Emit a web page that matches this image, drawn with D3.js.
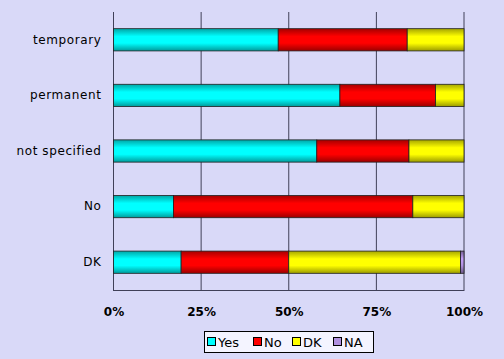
<!DOCTYPE html>
<html><head><meta charset="utf-8">
<script src="https://cdn.jsdelivr.net/npm/d3@7"></script>
<style>body{margin:0;background:#d9d9f8;}svg{display:block;}</style>
</head><body>
<script>
const categories = ["temporary","permanent","not specified","No","DK"];
const seriesNames = ["Yes","No","DK","NA"];
const yesValues = [47.0, 64.6, 58.0, 17.1, 19.3];
const noValues  = [36.8, 27.3, 26.3, 68.3, 30.7];
const dkValues  = [16.2, 8.1, 15.7, 14.6, 49.0];
const naValues  = [0, 0, 0, 0, 1.0];
const tickValues = [0, 25, 50, 75, 100];
const tickLabels = ["0%","25%","50%","75%","100%"];
const colors = ["#00ffff","#ff0000","#ffff00","#b090e0"];

const W = 504, H = 359;
const svg = d3.select("body").append("svg").attr("width", W).attr("height", H);
svg.append("rect").attr("width", W).attr("height", H).attr("fill", "#d9d9f8");

const defs = svg.append("defs");
colors.forEach((c, i) => {
  const g = defs.append("linearGradient").attr("id", "g" + i).attr("x1", 0).attr("y1", 0).attr("x2", 0).attr("y2", 1);
  const base = d3.color(c);
  g.append("stop").attr("offset", "0%").attr("stop-color", base.darker(1.2));
  g.append("stop").attr("offset", "35%").attr("stop-color", base.brighter(0.3));
  g.append("stop").attr("offset", "65%").attr("stop-color", base);
  g.append("stop").attr("offset", "100%").attr("stop-color", base.darker(1.4));
});

const x = d3.scaleLinear().domain([0, 100]).range([113.5, 464]);
const y = d3.scaleBand().domain(categories).range([12, 290]).paddingInner(0.6).paddingOuter(0.3);

// gridlines
svg.append("g").selectAll("line").data(tickValues).join("line")
  .attr("x1", d => x(d)).attr("x2", d => x(d)).attr("y1", 12).attr("y2", 291)
  .attr("stroke", "#404058").attr("stroke-width", 1);
// bottom axis line
svg.append("line").attr("x1", x(0)).attr("x2", x(100)).attr("y1", 290.5).attr("y2", 290.5)
  .attr("stroke", "#404058");

const rows = categories.map((c, i) => ({cat: c, Yes: yesValues[i], No: noValues[i], DK: dkValues[i], NA: naValues[i]}));
const stack = d3.stack().keys(seriesNames)(rows);

svg.append("g").selectAll("g").data(stack).join("g")
  .attr("fill", (d, i) => `url(#g${i})`)
  .selectAll("rect").data(d => d.filter(p => p[1] - p[0] > 0)).join("rect")
  .attr("x", d => x(d[0]))
  .attr("width", d => x(d[1]) - x(d[0]))
  .attr("y", d => y(d.data.cat))
  .attr("height", y.bandwidth())
  .attr("stroke", "#202020").attr("stroke-width", 0.8);

// category labels
const yAxis = d3.axisLeft(y).tickSize(0).tickPadding(12);
const ya = svg.append("g").attr("transform", `translate(${x(0)},0)`).call(yAxis);
ya.select(".domain").remove();
ya.selectAll("text").attr("font-family", "DejaVu Sans, sans-serif").attr("font-size", 12)
  .attr("letter-spacing", "0.6px").attr("fill", "#000");

// x labels
const xAxis = d3.axisBottom(x).tickValues(tickValues).tickFormat((d, i) => tickLabels[i]).tickSize(0).tickPadding(16);
const xa = svg.append("g").attr("transform", `translate(0,291)`).call(xAxis);
xa.select(".domain").remove();
xa.selectAll("text").attr("font-family", "DejaVu Sans, sans-serif").attr("font-size", 12).attr("font-weight", "bold").attr("fill", "#000");

// legend
const lg = svg.append("g");
lg.append("rect").attr("x", 204.5).attr("y", 331.5).attr("width", 169).attr("height", 21)
  .attr("fill", "#f4f4ff").attr("stroke", "#000");
const itemX = [207, 253, 292, 333];
seriesNames.forEach((s, i) => {
  lg.append("rect").attr("x", itemX[i] + 0.5).attr("y", 337.5).attr("width", 8).attr("height", 8)
    .attr("fill", colors[i]).attr("stroke", "#000");
  lg.append("text").attr("x", itemX[i] + 11).attr("y", 347).text(s)
    .attr("font-family", "DejaVu Sans, sans-serif").attr("font-size", 13).attr("fill", "#000");
});
</script>
</body></html>
